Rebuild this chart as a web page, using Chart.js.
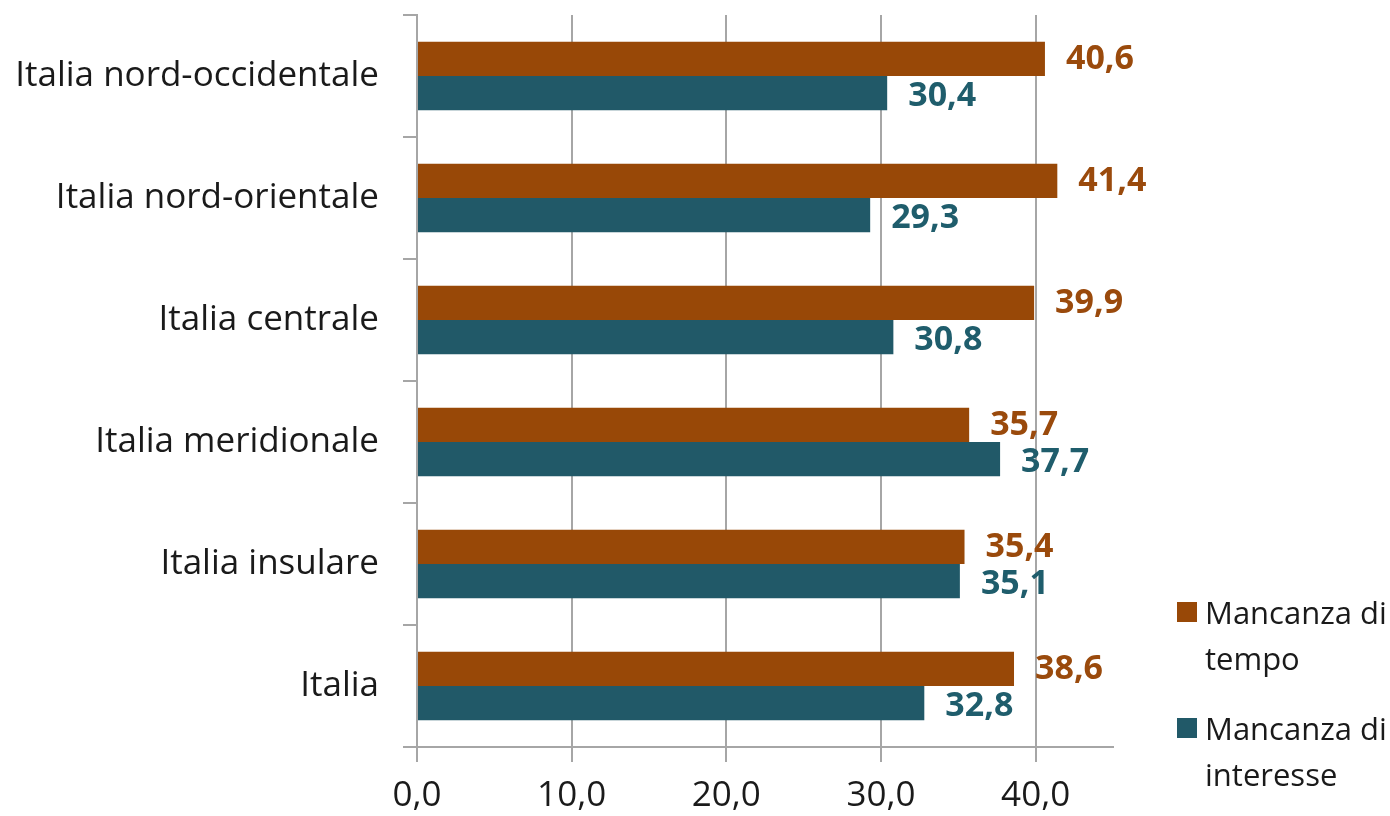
<!DOCTYPE html>
<html>
<head>
<meta charset="utf-8">
<script src="https://cdn.jsdelivr.net/npm/chart.js@4/dist/chart.umd.min.js"></script>
<style>
  html, body { margin: 0; padding: 0; background: #fff; }
  #wrap { width: 1390px; height: 816px; position: relative; }
</style>
</head>
<body>
<div id="wrap"><canvas id="chart"></canvas></div>
<script>
const categories = ['Italia nord-occidentale', 'Italia nord-orientale', 'Italia centrale', 'Italia meridionale', 'Italia insulare', 'Italia'];
const tempoValues = [40.6, 41.4, 39.9, 35.7, 35.4, 38.6];
const interesseValues = [30.4, 29.3, 30.8, 37.7, 35.1, 32.8];
const seriesNames = [['Mancanza di', 'tempo'], ['Mancanza di', 'interesse']];
const xTicks = [0, 10, 20, 30, 40];

const FONT = "'Open Sans', sans-serif";
const fmt = v => v.toFixed(1).replace('.', ',');

// value labels at the end of each bar
const valueLabels = {
  id: 'valueLabels',
  afterDatasetsDraw(chart) {
    const ctx = chart.ctx;
    ctx.save();
    ctx.font = 'bold 34px ' + FONT;
    ctx.textAlign = 'left';
    ctx.textBaseline = 'middle';
    chart.data.datasets.forEach((ds, i) => {
      const meta = chart.getDatasetMeta(i);
      ctx.fillStyle = ds.labelColor;
      meta.data.forEach((bar, j) => {
        ctx.fillText(fmt(ds.data[j]), bar.x + 21, bar.y + (i === 0 ? 0 : 3));
      });
    });
    ctx.restore();
  }
};

// legend with wrapped text on the right
const sideLegend = {
  id: 'sideLegend',
  afterDraw(chart) {
    const ctx = chart.ctx;
    const area = chart.chartArea;
    ctx.save();
    ctx.font = '31px ' + FONT;
    ctx.textBaseline = 'middle';
    ctx.textAlign = 'left';
    const x = area.right + 64;
    const tops = [area.bottom - 145, area.bottom - 29];
    chart.data.datasets.forEach((ds, i) => {
      const y = tops[i];
      ctx.fillStyle = ds.backgroundColor;
      ctx.fillRect(x, y, 20, 20);
      ctx.fillStyle = '#1a1a1a';
      ds.legendLines.forEach((line, k) => {
        ctx.fillText(line, x + 28, y + 13 + k * 46);
      });
    });
    ctx.restore();
  }
};

new Chart(document.getElementById('chart'), {
  type: 'bar',
  data: {
    labels: categories,
    datasets: [{
      label: 'Mancanza di tempo',
      data: tempoValues,
      backgroundColor: '#984807',
      labelColor: '#9a4a0c',
      legendLines: seriesNames[0]
    }, {
      label: 'Mancanza di interesse',
      data: interesseValues,
      backgroundColor: '#215968',
      labelColor: '#1f5d6c',
      legendLines: seriesNames[1]
    }]
  },
  options: {
    indexAxis: 'y',
    responsive: true,
    maintainAspectRatio: false,
    animation: false,
    layout: { padding: { top: 15, right: 277, left: 0, bottom: 0 } },
    datasets: { bar: { categoryPercentage: 0.56, barPercentage: 1.0 } },
    plugins: {
      legend: { display: false },
      tooltip: { enabled: false }
    },
    scales: {
      x: {
        min: 0,
        max: 45,
        afterBuildTicks(scale) {
          scale.ticks = xTicks.map(v => ({ value: v }));
        },
        afterFit(scale) {
          scale.height = 69;
          scale.paddingLeft = 0;
          scale.paddingRight = 0;
        },
        grid: { color: '#a6a6a6', lineWidth: 2, tickLength: 15 },
        border: { color: '#a6a6a6', width: 2 },
        ticks: {
          color: '#1a1a1a',
          font: { family: FONT, size: 35 },
          padding: 13,
          callback: v => fmt(v)
        }
      },
      y: {
        afterFit(scale) {
          scale.width = 417;
          scale.paddingTop = 0;
          scale.paddingBottom = 0;
        },
        grid: { drawOnChartArea: false, color: '#a6a6a6', lineWidth: 2, tickLength: 14 },
        border: { color: '#a6a6a6', width: 2 },
        ticks: {
          color: '#1a1a1a',
          font: { family: FONT, size: 35 },
          padding: 24
        }
      }
    }
  },
  plugins: [valueLabels, sideLegend]
});
</script>
</body>
</html>
